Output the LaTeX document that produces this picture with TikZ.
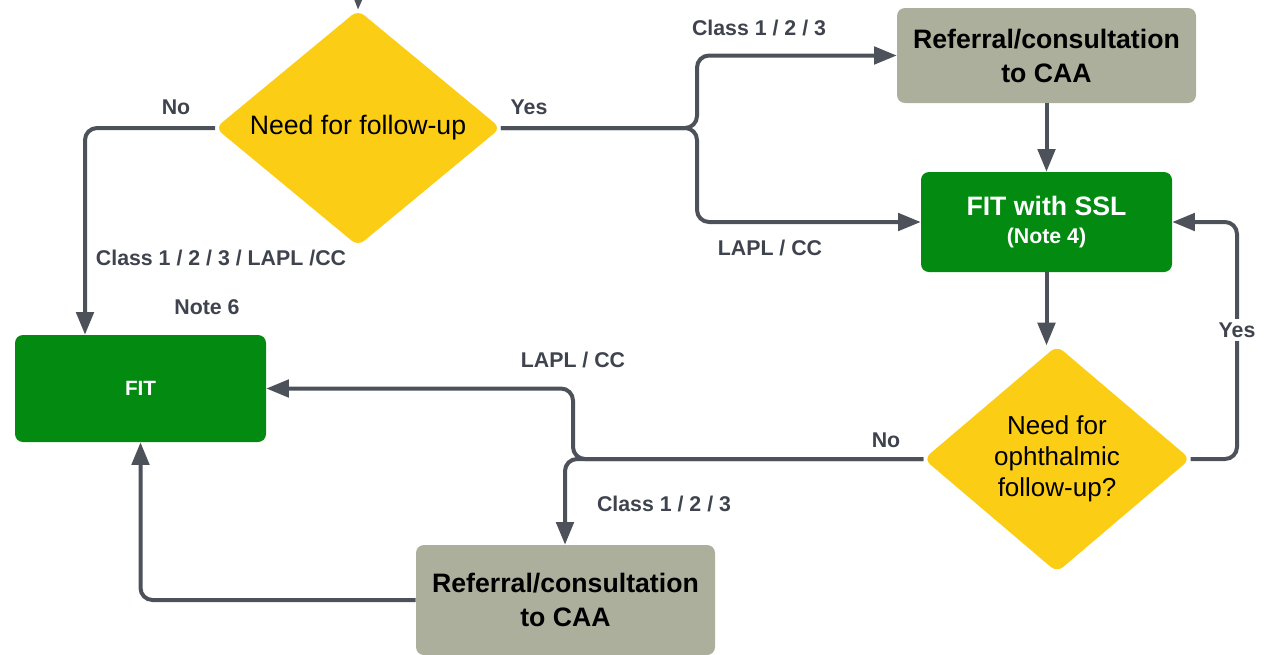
\documentclass[tikz,border=0pt]{standalone}
\usepackage{fontspec}
\setmainfont{Liberation Sans}
\usetikzlibrary{shapes.geometric,arrows.meta}
\definecolor{linec}{HTML}{4C515A}
\definecolor{labc}{HTML}{3E434E}
\definecolor{yel}{HTML}{FBCE15}
\definecolor{grn}{HTML}{038A11}
\definecolor{gry}{HTML}{ACAF9B}
\begin{document}
\begin{tikzpicture}[x=0.75pt,y=-0.75pt,
  conn/.style={draw=linec,line width=3pt,rounded corners=9pt,-{Triangle[length=17pt,width=13pt]}},
  lab/.style={text=labc,font=\bfseries\fontsize{16}{19}\selectfont,inner sep=1pt},
  dia/.style={diamond,fill=yel,rounded corners=6pt,inner sep=0pt,aspect=1.2,align=center},
  refbox/.style={rectangle,fill=gry,rounded corners=6pt,align=center,inner sep=0pt,
    font=\bfseries\fontsize{20}{25.5}\selectfont,minimum width=224.25pt},
  fitbox/.style={rectangle,fill=grn,rounded corners=6pt,align=center,inner sep=0pt,text=white,
    minimum width=188.25pt}]
\clip (0,0) rectangle (1268,654);
\useasboundingbox (0,0) rectangle (1268,654);

% nodes
\node[dia,minimum width=214pt,minimum height=177pt,font=\fontsize{20}{24}\selectfont] (d1) at (358,128) {Need for follow-up};
\node[refbox,minimum height=71.25pt] (ref1) at (1046.5,55.5) {Referral/consultation\\to CAA};
\node[fitbox,minimum height=75pt,font=\bfseries\fontsize{20}{21}\selectfont] (ssl) at (1046.5,222) {FIT with SSL\\{\fontsize{16}{19}\selectfont (Note 4)}};
\node[dia,minimum width=200pt,minimum height=170pt,font=\fontsize{19.5}{23.25}\selectfont] (d2) at (1057,459) {Need for\\ophthalmic\\follow-up?};
\node[fitbox,minimum height=80.25pt,font=\bfseries\fontsize{15.5}{19}\selectfont] (fit) at (140.5,388.5) {FIT};
\node[refbox,minimum height=82.5pt] (ref2) at (565.5,600) {Referral/consultation\\to CAA};

% coordinates
\coordinate (start) at (359,-30);
\coordinate (bx) at (697,128);
\coordinate (lx) at (85,128);
\coordinate (yr) at (1237,222);
\coordinate (jx) at (573,459);
\coordinate (jx2) at (565,459);

% connectors
\draw[conn] (start) -- (d1.north);
\draw[conn] (d1.west) -- (lx) -- (lx |- fit.north);
\draw[conn] (d1.east) -- (bx) |- (ref1.west);
\draw[conn] (d1.east) -- (bx) |- (ssl.west);
\draw[conn] (ref1.south) -- (ssl.north);
\draw[conn] (ssl.south) -- (ssl.south |- d2.north);
\draw[conn] (d2.east) -| (yr) -- (ssl.east);
\draw[conn] (d2.west) -- (jx) |- (fit.east);
\draw[conn] (d2.west) -- (jx2) -- (jx2 |- ref2.north);
\draw[conn] (ref2.west) -| (fit.south);

% labels
\node[lab] (lno1) at (176,107) {No};
\node[lab] (lyes1) at (529,107) {Yes};
\node[lab] (lall) at (221,258) {Class 1 / 2 / 3 / LAPL /CC};
\node[lab] (lnote6) at (207,307) {Note 6};
\node[lab] (lc1) at (759,28) {Class 1 / 2 / 3};
\node[lab] (ll1) at (770,248) {LAPL / CC};
\node[lab] (ll2) at (573,360) {LAPL / CC};
\node[lab] (lno2) at (886,440) {No};
\node[lab] (lc2) at (664,504) {Class 1 / 2 / 3};
\node[lab,fill=white,inner sep=3pt] (lyes2) at (1237,330) {Yes};
\end{tikzpicture}
\end{document}
